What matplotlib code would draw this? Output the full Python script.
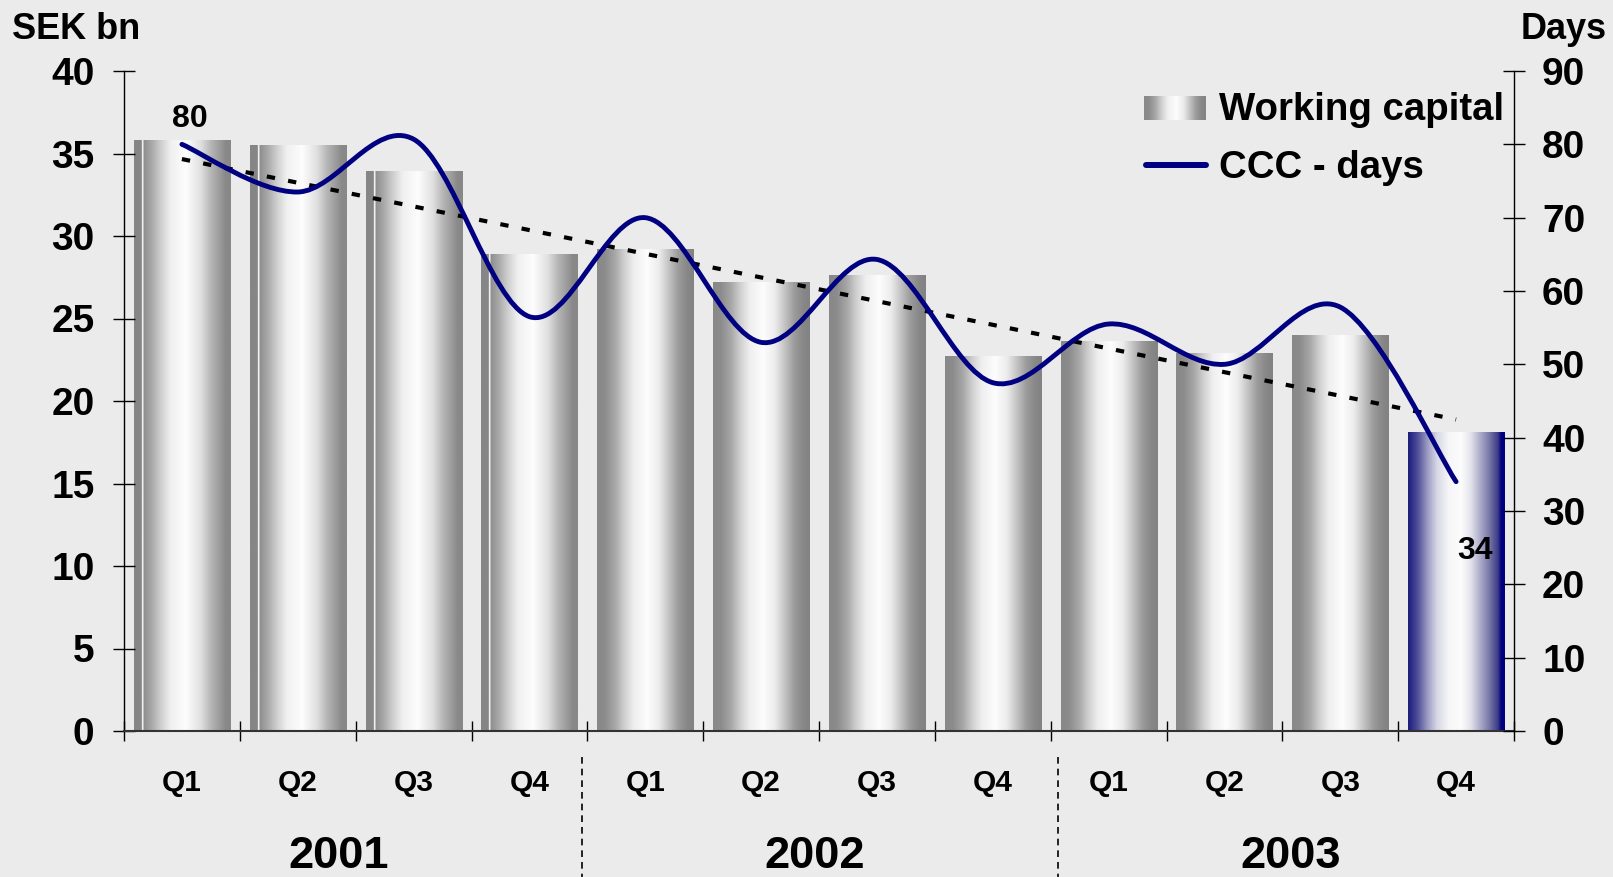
import numpy as np
import matplotlib
matplotlib.use("Agg")
import matplotlib.pyplot as plt
import matplotlib.transforms as mtrans
from matplotlib.colors import LinearSegmentedColormap
from matplotlib.path import Path
from matplotlib.patches import PathPatch
from matplotlib.lines import Line2D

# data
quarters = ["Q1", "Q2", "Q3", "Q4"] * 3
years = ["2001", "2002", "2003"]
working_capital = [35.8, 35.5, 33.9, 28.9, 29.2, 27.2, 27.6, 22.7, 23.6, 22.9, 24.0, 18.1]
ccc_days = [80, 73.5, 80.7, 56.5, 70, 53, 64.3, 47.5, 55.5, 50, 57.8, 34]

plt.rcParams["font.family"] = ["Liberation Sans", "DejaVu Sans"]
plt.rcParams["font.weight"] = "bold"

W, H = 1613, 877
BG = "#ebebeb"
NAVY = "#000080"

gray_cmap = LinearSegmentedColormap.from_list("gray_cyl", [
    (0.0, "#888888"), (0.08, "#8c8c8c"), (0.18, "#a6a6a6"), (0.28, "#cfcfcf"),
    (0.38, "#efefef"), (0.52, "#fdfdfd"), (0.64, "#ececec"), (0.74, "#c4c4c4"),
    (0.84, "#9c9c9c"), (0.93, "#888888"), (1.0, "#828282")])
# the 2001 bars have a flat strip and a thin white line on the left
strip_cmap = LinearSegmentedColormap.from_list("gray_strip", [
    (0.0, "#868686"), (0.078, "#868686"), (0.082, "#ffffff"), (0.094, "#ffffff"),
    (0.098, "#8e8e8e"), (0.18, "#a8a8a8"), (0.28, "#d0d0d0"), (0.38, "#f0f0f0"),
    (0.54, "#fdfdfd"), (0.69, "#e0e0e0"), (0.79, "#b8b8b8"), (0.9, "#989898"),
    (0.95, "#888888"), (1.0, "#888888")])
blue_cmap = LinearSegmentedColormap.from_list("blue_cyl", [
    (0.0, "#1c1c7c"), (0.1, "#50509a"), (0.2, "#9c9cc2"), (0.3, "#d8d8e6"),
    (0.42, "#f6f6f8"), (0.55, "#fcfcfc"), (0.65, "#e2e2ec"), (0.74, "#b0b0cc"),
    (0.84, "#7878a8"), (0.93, "#3c3c88"), (0.965, NAVY), (1.0, NAVY)])


def smooth_path(xs, ys):
    # Catmull-Rom style smoothing drawn as cubic bezier segments
    pts = np.column_stack([xs, ys]).astype(float)
    ext = np.vstack([pts[0], pts, pts[-1]])
    verts = [pts[0]]
    codes = [Path.MOVETO]
    for i in range(len(pts) - 1):
        p0, p1, p2, p3 = ext[i], ext[i + 1], ext[i + 2], ext[i + 3]
        verts += [p1 + (p2 - p0) / 6, p2 - (p3 - p1) / 6, p2]
        codes += [Path.CURVE4] * 3
    return Path(verts, codes)


fig = plt.figure(figsize=(W / 100, H / 100), dpi=100, facecolor=BG)
ax = fig.add_axes([124 / W, 146 / H, 1390 / W, 660 / H])
ax.set_facecolor("none")

x = np.arange(len(working_capital))
bars = ax.bar(x, working_capital, width=0.83, color="none", edgecolor="none")
grad = np.linspace(0, 1, 400).reshape(1, -1)
for i, b in enumerate(bars):
    if i == len(bars) - 1:
        cmap = blue_cmap
    elif i < 4:
        cmap = strip_cmap
    else:
        cmap = gray_cmap
    ax.imshow(grad, cmap=cmap, aspect="auto", interpolation="bilinear", zorder=1,
              extent=(b.get_x(), b.get_x() + b.get_width(), 0, b.get_height()))

ax.set_xlim(-0.5, 11.5)
ax.set_ylim(0, 40)
ax.set_yticks(np.arange(0, 41, 5))
ax.set_xticks(np.arange(-0.5, 12, 1))
ax.set_xticklabels([])
ax.tick_params(axis="y", direction="inout", length=16.5, width=1, labelsize=28, pad=13)
ax.tick_params(axis="x", direction="inout", length=14, width=1)
ax.spines["top"].set_visible(False)
ax.spines["right"].set_visible(False)
ax.spines["left"].set_linewidth(1)
ax.spines["bottom"].set_color("#333333")
ax.spines["bottom"].set_linewidth(1.5)

for xi, q in zip(x, quarters):
    ax.annotate(q, (xi, 0), xycoords=("data", "axes fraction"), xytext=(0, -43.2),
                textcoords="offset points", ha="center", va="baseline", fontsize=21.5,
                annotation_clip=False)

year_pos = [1.35, 5.46, 9.57]
for xp, yr in zip(year_pos, years):
    ax.annotate(yr, (xp, 0), xycoords=("data", "axes fraction"), xytext=(0, -99),
                textcoords="offset points", ha="center", va="baseline", fontsize=32.5,
                annotation_clip=False)

trans = mtrans.blended_transform_factory(ax.transData, ax.transAxes)
for s in [3.45, 7.56]:
    ax.plot([s, s], [-0.039, -0.23], transform=trans, color="black", lw=1.2,
            linestyle=(0, (4, 3)), clip_on=False)

ax2 = ax.twinx()
ax2.set_facecolor("none")
for side in ["top", "left", "bottom"]:
    ax2.spines[side].set_visible(False)
ax2.spines["right"].set_linewidth(1)

coef = np.polyfit(x, ccc_days, 1)
ax2.plot(x, np.polyval(coef, x), color="black", lw=3, linestyle=(0, (2, 3.2)),
         dash_capstyle="butt", zorder=3)
ax2.add_patch(PathPatch(smooth_path(x, ccc_days), fill=False, edgecolor=NAVY, lw=3.5,
                        capstyle="round", joinstyle="round", zorder=4))

ax2.annotate(f"{ccc_days[0]:.0f}", (x[0], ccc_days[0]), xytext=(5.8, 12.7),
             textcoords="offset points", ha="center", va="baseline", fontsize=23)
ax2.annotate(f"{ccc_days[-1]:.0f}", (x[-1], ccc_days[-1]), xytext=(13.7, -56),
             textcoords="offset points", ha="center", va="baseline", fontsize=23)

ax2.set_xlim(-0.5, 11.5)
ax2.set_ylim(0, 90)
ax2.set_yticks(np.arange(0, 91, 10))
ax2.tick_params(axis="y", direction="inout", length=16.5, width=1, labelsize=28, pad=12)

# legend
lax = fig.add_axes([1144 / W, 1 - 120 / H, 62 / W, 24 / H])
lax.imshow(grad, cmap=gray_cmap, aspect="auto", extent=(0, 1, 0, 1))
lax.axis("off")
fig.add_artist(Line2D([1146 / W, 1206 / W], [1 - 165 / H] * 2, color=NAVY, lw=4.3,
                      solid_capstyle="round"))
fig.text(1219 / W, 1 - 120 / H, "Working capital", fontsize=27.6, va="baseline")
fig.text(1219 / W, 1 - 178 / H, "CCC - days", fontsize=27.6, va="baseline")

fig.text(12 / W, 1 - 39 / H, "SEK bn", fontsize=26, va="baseline")
fig.text(1607 / W, 1 - 39 / H, "Days", fontsize=26, va="baseline", ha="right")

fig.savefig("out.png", dpi=100, facecolor=fig.get_facecolor())
